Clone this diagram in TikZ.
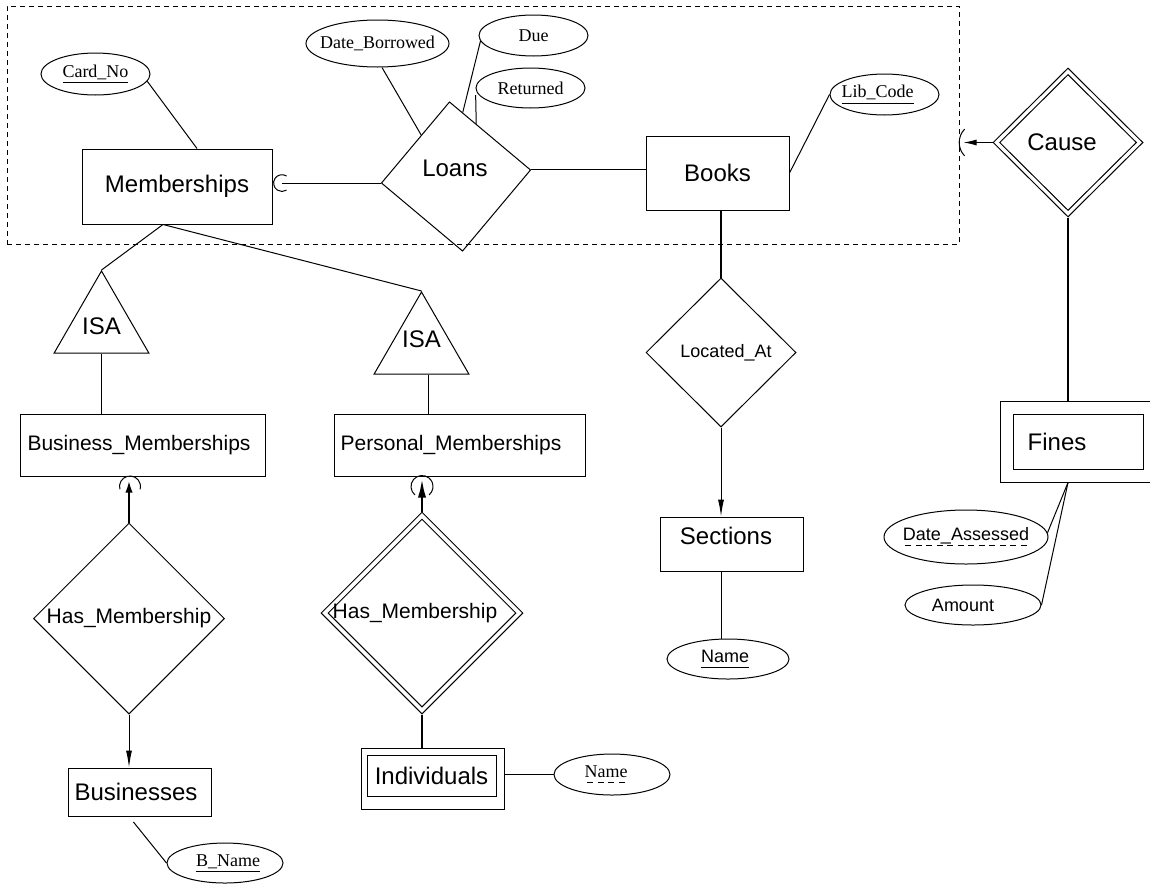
\documentclass[tikz,border=0pt]{standalone}
\usepackage{fontspec}
\setmainfont{Liberation Sans}
\newfontfamily\timesfont{Liberation Serif}
\usepackage{tikz}
\usetikzlibrary{shapes,arrows.meta}
\newcommand{\ztext}[2][0pt]{\makebox[0pt]{\hspace*{#1}#2\hspace*{-#1}}}
\newcommand{\keyline}[1]{\setbox0\hbox{#1}\rlap{\rule[-2.8pt]{\wd0}{0.5pt}}\box0}
\newcommand{\partkey}[1]{\setbox0\hbox{#1}\rlap{\raisebox{-2.8pt}{\hbox to \wd0{\xleaders\hbox to 5pt{\hss\rule{3pt}{0.5pt}\hss}\hfil}}}\box0}
\tikzstyle{entity} =
        [
                rectangle,
                draw,
                inner sep = 0pt,
                font = \fontsize{12}{14}\selectfont
        ]
\tikzstyle{subentity} =
        [
                entity,
                font = \fontsize{10.5}{12}\selectfont
        ]
\tikzstyle{relation} =
        [
                diamond,
                draw,
                aspect = 1,
                inner sep = 0pt,
                font = \fontsize{12}{14}\selectfont
        ]
\tikzstyle{isa} =
        [
                regular polygon,
                regular polygon sides = 3,
                draw,
                inner sep = 0pt,
                minimum size = 54.8pt,
                font = \fontsize{12}{14}\selectfont
        ]
\tikzstyle{attrib} =
        [
                ellipse,
                draw,
                inner sep = 0pt,
                font = \timesfont\fontsize{9}{11}\selectfont
        ]
\tikzstyle{sattrib} =
        [
                attrib,
                font = \fontsize{9}{11}\selectfont
        ]
\tikzstyle{aggregate} =
        [
                rectangle,
                draw,
                dash pattern = on 2.5pt off 2pt,
                inner sep = 0pt
        ]
\tikzstyle{line} =
        [
                draw,
                line width = 0.5pt
        ]
\tikzstyle{total} =
        [
                draw,
                line width = 1.4pt
        ]
\tikzstyle{arrow} =
        [
                line,
                -{Latex[length=8.5pt,width=3pt]}
        ]
\begin{document}
\begin{tikzpicture}[x=0.5pt, y=-0.5pt, line width=0.5pt]
    \useasboundingbox (0,0) rectangle (1150,884);
    % aggregation round Loans
    \node [aggregate, minimum width=476pt, minimum height=119pt] (agg) at (483,125) {};
    \node [entity, minimum width=95pt, minimum height=37.5pt] (memb) at (177,186.5) {Memberships};
    \node [relation, minimum size=75pt, rotate=5] (loans) at (456,176.5) {};
    \node [font=\fontsize{12}{14}\selectfont] (loanstxt) at (455,168) {Loans};
    \node [entity, minimum width=71.5pt, minimum height=37pt] (books) at (717.5,173) {Books};
    \node [attrib, minimum width=54.5pt, minimum height=21pt] (cardno) at (95.5,74) {\ztext{\keyline{Card\_No}}};
    \node [attrib, minimum width=71.5pt, minimum height=23.5pt] (dateb) at (377.5,43.5) {\ztext{Date\_Borrowed}};
    \node [attrib, minimum width=54.5pt, minimum height=20.5pt] (due) at (533.5,35.5) {\ztext{Due}};
    \node [attrib, minimum width=54.5pt, minimum height=20pt] (returned) at (530.5,88) {\ztext{Returned}};
    \node [attrib, minimum width=54.5pt, minimum height=20.5pt] (libcode) at (884.5,94.5) {\ztext[-3.5pt]{\keyline{Lib\_Code}}};
    % books side
    \node [relation, minimum width=75pt, minimum height=74.5pt, font=\fontsize{9}{11}\selectfont] (locat) at (721,352.5) {\ztext[2.5pt]{Located\_At}};
    \node [entity, minimum width=71.5pt, minimum height=27pt, text depth=8pt] (sections) at (731.5,544) {Sections\hspace*{5.5pt}};
    \node [sattrib, minimum width=61pt, minimum height=20pt] (secname) at (728,659) {\ztext[-1.5pt]{\keyline{Name}}};
    % fines
    \node [relation, minimum width=75pt, minimum height=74.5pt] (cause) at (1068,142.5) {};
    \node [relation, minimum width=68.5pt, minimum height=68pt] (causein) at (cause) {\ztext[-3pt]{Cause}};
    \node [entity, minimum width=78pt, minimum height=40.5pt] (fines) at (1078,441.5) {};
    \node [entity, minimum width=65pt, minimum height=27.5pt] (finesin) at (fines) {\ztext[-10.5pt]{Fines}};
    \node [sattrib, minimum width=82pt, minimum height=27pt] (dateas) at (966,537) {\ztext{\partkey{Date\_Assessed}}};
    \node [sattrib, minimum width=68pt, minimum height=20pt] (amount) at (973,605) {\ztext[-5pt]{Amount}};
    % memberships hierarchy
    \node [isa] (isa1) at (101.5,325.8) {ISA};
    \node [isa, text depth=7.8pt] (isa2) at (421.5,346.8) {ISA};
    \node [subentity, minimum width=122.5pt, minimum height=31pt] (busmem) at (142.5,445) {\ztext[-1.75pt]{Business\_Memberships}};
    \node [subentity, minimum width=125.5pt, minimum height=31pt] (persmem) at (459.5,445) {\ztext[-4.25pt]{Personal\_Memberships}};
    \node [relation, minimum size=95.5pt, font=\fontsize{10.5}{12}\selectfont] (bhas) at (129,618.5) {\ztext{Has\_Membership}};
    \node [relation, minimum size=101pt] (phas) at (422,613) {};
    \node [relation, minimum size=94pt, font=\fontsize{10.5}{12}\selectfont] (phasin) at (phas) {\ztext[-3.5pt]{Has\_Membership}};
    \node [entity, minimum width=71.5pt, minimum height=24pt] (busin) at (139.5,792) {\ztext[-1.75pt]{Businesses}};
    \node [attrib, minimum width=58pt, minimum height=20pt] (bname) at (225,863) {\ztext[1.5pt]{\keyline{B\_Name}}};
    \node [entity, minimum width=71.5pt, minimum height=30.5pt] (indiv) at (432.5,778.5) {};
    \node [entity, minimum width=64.5pt, minimum height=20.5pt] (indivin) at (431.5,775.5) {Individuals};
    \node [attrib, minimum width=58pt, minimum height=20.5pt] (indname) at (612,774.5) {\ztext[-3pt]{\partkey{Name}}};

    \coordinate (membarc) at ([xshift=4.75pt]memb.east |- loans.west);
    \coordinate (causetip) at ([xshift=2pt]agg.east |- cause.west);

    \path [line] (cardno.-8) -- ([xshift=10pt]memb.north);
    \path [line] ([xshift=2.25pt]dateb.south) -- (loans.125);
    \path [line] (due.186) -- (loans.79);
    \path [line, shorten <=3.5pt] (returned.west) -- (loans.64);
    \path [line] (loans.west) -- (membarc);
    \draw [line] (membarc) ++(303:8.4) arc [start angle=303, end angle=57, radius=8.4];
    \path [line] (loans.east) -- (loans.east -| books.west);
    \path [line] (books.east) -- (libcode.west);
    \path [total] (locat.north) -- (locat.north |- books.south);
    \path [arrow] (locat.south) -- (locat.south |- sections.north);
    \path [line] (locat.south |- sections.south) -- (locat.south |- secname.north);
    \path [line, -{Latex[length=6.5pt,width=3pt]}] (cause.west) -- (causetip);
    \draw [line] ([xshift=7.5pt]causetip) ++(136:19.3) arc [start angle=136, end angle=224, radius=19.3];
    \path [total] (cause.south) -- (cause.south |- fines.north);
    \path [line] (cause.south |- fines.south) -- (dateas.3);
    \path [line] (cause.south |- fines.south) -- (amount.east);
    \path [line] ([xshift=-7pt]memb.south) -- (isa1.north);
    \path [line] ([xshift=-7pt]memb.south) -- (isa2.north);
    \path [line] (isa1.south) -- (isa1.south |- busmem.north);
    \path [line] ([xshift=3.5pt]isa2.south) -- ([xshift=3.5pt]isa2.south |- persmem.north);
    \path [total, -{Latex[length=7pt,width=3.5pt]}, shorten >=1pt] (bhas.north) -- (bhas.north |- busmem.south);
    \draw [line] ([shift={(1,10)}]bhas.north |- busmem.south) ++(164:10.5) arc [start angle=164, end angle=376, radius=10.5];
    \path [arrow] (bhas.south) -- (bhas.south |- busin.north);
    \path [line, shorten <=3.5pt] ([xshift=-5.25pt]busin.south) -- (bname.west);
    \path [total, -{Latex[length=10pt,width=4pt]}, shorten >=0.5pt] (phas.north) -- (phas.north |- persmem.south);
    \draw [line] ([yshift=-5pt]phas.north |- persmem.south) ++(130:11) arc [start angle=130, end angle=410, radius=11];
    \path [total] (phas.south) -- (phas.south |- indiv.north);
    \path [line] (indiv.east |- indname) -- (indname.west);
\end{tikzpicture}
\end{document}
